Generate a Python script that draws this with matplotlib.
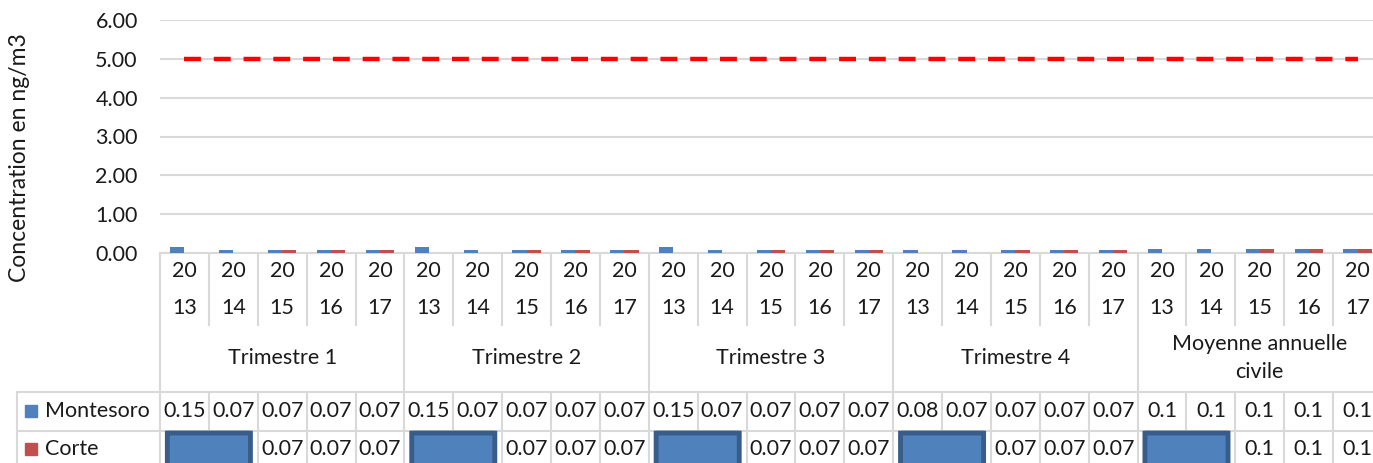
import matplotlib.pyplot as plt
import matplotlib.transforms as mtransforms
from matplotlib.patches import FancyBboxPatch, Rectangle
import numpy as np

plt.rcParams['font.family'] = ['Lato', 'DejaVu Sans']

# data
groups = ['Trimestre 1', 'Trimestre 2', 'Trimestre 3', 'Trimestre 4', 'Moyenne annuelle\ncivile']
years = ['2013', '2014', '2015', '2016', '2017']
montesoro = [0.15, 0.07, 0.07, 0.07, 0.07,
             0.15, 0.07, 0.07, 0.07, 0.07,
             0.15, 0.07, 0.07, 0.07, 0.07,
             0.08, 0.07, 0.07, 0.07, 0.07,
             0.1, 0.1, 0.1, 0.1, 0.1]
corte = [None, None, 0.07, 0.07, 0.07,
         None, None, 0.07, 0.07, 0.07,
         None, None, 0.07, 0.07, 0.07,
         None, None, 0.07, 0.07, 0.07,
         None, None, 0.1, 0.1, 0.1]
limit_value = [5.0] * 25
yticks = [0, 1, 2, 3, 4, 5, 6]

W, H = 1373, 463
blue = '#4f81bd'
red = '#c0504d'
grid_c = '#d9d9d9'
txt_c = '#1a1a1a'
fs = 15.5

fig = plt.figure(figsize=(W / 100, H / 100), dpi=100)
ax_l, ax_r, ax_t, ax_b = 160, 1382, 20, 253
ax = fig.add_axes([ax_l / W, (H - ax_b) / H, (ax_r - ax_l) / W, (ax_b - ax_t) / H])

n = len(montesoro)
x = np.arange(n)
bw = 0.29
m_vals = np.array(montesoro, dtype=float)
c_vals = np.array([np.nan if v is None else v for v in corte], dtype=float)
ax.bar(x - bw / 2, m_vals, bw, color=blue, zorder=3)
ax.bar(x + bw / 2, c_vals, bw, color=red, zorder=3)
ax.plot(x, limit_value, color='#ff0000', lw=3.2, dashes=(3.8, 2.9), zorder=4, clip_on=False)

ax.set_xlim(-0.5, n - 0.5)
ax.set_ylim(0, 6)
ax.set_yticks(yticks)
ax.set_yticklabels([f'{v:.2f}' for v in yticks], fontsize=fs, color=txt_c)
ax.tick_params(axis='y', length=0, pad=16)
ax.set_xticks([])
ax.grid(axis='y', color=grid_c, lw=1.5, zorder=0)
for s in ax.spines.values():
    s.set_visible(False)

# overlay in pixel units for the data table
tab = fig.add_axes([0, 0, 1, 1], zorder=-1)
tab.set_xlim(0, W)
tab.set_ylim(H, 0)
tab.axis('off')
over = fig.add_axes([0, 0, 1, 1], zorder=5)
over.set_xlim(0, W)
over.set_ylim(H, 0)
over.axis('off')
trans = mtransforms.blended_transform_factory(ax.transData, tab.transData)
trans_o = mtransforms.blended_transform_factory(ax.transData, over.transData)

lw = 1.5
row_top, yr_bot, grp_bot, m_bot, c_bot = 253, 325, 392, 431, 470
# axis line / table top
tab.plot([-0.5, n - 0.5], [row_top, row_top], color=grid_c, lw=lw, transform=trans, clip_on=False)
for i in range(n + 1):
    xb = i - 0.5
    if i % 5 == 0:
        tab.plot([xb, xb], [row_top, c_bot], color=grid_c, lw=lw, transform=trans, clip_on=False)
    else:
        tab.plot([xb, xb], [row_top, yr_bot], color=grid_c, lw=lw, transform=trans, clip_on=False)
        tab.plot([xb, xb], [grp_bot, c_bot], color=grid_c, lw=lw, transform=trans, clip_on=False)
# horizontal rows
for yy in [grp_bot, m_bot]:
    tab.plot([17, W + 20], [yy, yy], color=grid_c, lw=lw, clip_on=False)
tab.plot([17, 17], [grp_bot, c_bot], color=grid_c, lw=lw, clip_on=False)

# year labels
for i in range(n):
    y = years[i % 5]
    tab.text(i, 271, y[:2], transform=trans, ha='center', va='center', fontsize=fs, color=txt_c)
    tab.text(i, 308, y[2:], transform=trans, ha='center', va='center', fontsize=fs, color=txt_c)
# group labels
for g, name in enumerate(groups):
    tab.text(g * 5 + 2, 358, name, transform=trans, ha='center', va='center',
             fontsize=fs, color=txt_c, linespacing=1.45)
# values
for i in range(n):
    tab.text(i, 411, f'{montesoro[i]:g}', transform=trans, ha='center', va='center', fontsize=fs, color=txt_c)
    if corte[i] is not None:
        tab.text(i, 449, f'{corte[i]:g}', transform=trans, ha='center', va='center', fontsize=fs, color=txt_c)

# legend keys in row header
tab.add_patch(Rectangle((25, 405), 12, 12, color=blue))
tab.text(45, 411, 'Montesoro', ha='left', va='center', fontsize=fs, color=txt_c)
tab.add_patch(Rectangle((25, 443), 12, 12, color=red))
tab.text(45, 449, 'Corte', ha='left', va='center', fontsize=fs, color=txt_c)

# blue boxes pasted over the missing Corte cells
for g in range(5):
    start = g * 5
    over.add_patch(FancyBboxPatch((start - 0.35, 433), 1.7, 40, transform=trans_o,
                                  boxstyle='round,pad=0,rounding_size=0.08',
                                  facecolor=blue, edgecolor='#385d8a', lw=3.5, clip_on=False,
                                  mutation_aspect=1))

# y label
fig.text(20 / W, 1 - 158 / H, 'Concentration en ng/m3', rotation=90, ha='center', va='center',
         fontsize=16.5, color=txt_c)

plt.savefig('out.png', dpi=100)
